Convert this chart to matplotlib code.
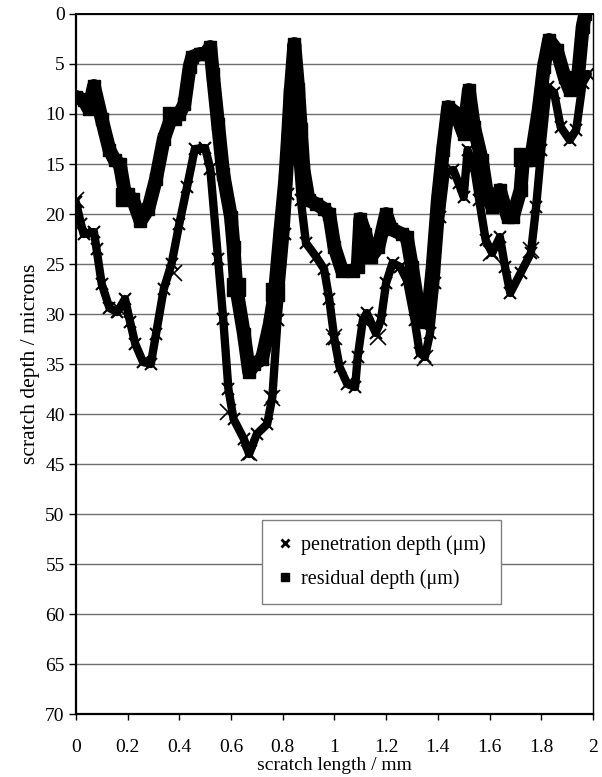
import numpy as np
import matplotlib
matplotlib.use("Agg")
import matplotlib.pyplot as plt
from matplotlib.lines import Line2D

plt.rcParams['font.family'] = ['Liberation Serif', 'DejaVu Serif']

# residual depth (squares)
res_x = [0, 0.03, 0.05, 0.07, 0.10, 0.13, 0.15, 0.17, 0.19, 0.22,
         0.25, 0.28, 0.31, 0.34, 0.37, 0.40, 0.42, 0.44, 0.45, 0.48,
         0.50, 0.52, 0.53, 0.55, 0.57, 0.60, 0.61, 0.62, 0.65, 0.67,
         0.69, 0.72, 0.75, 0.77, 0.79, 0.81, 0.82, 0.83, 0.845, 0.86,
         0.87, 0.88, 0.90, 0.93, 0.96, 0.98, 1.00, 1.03, 1.07, 1.09,
         1.10, 1.12, 1.14, 1.17, 1.20, 1.22, 1.26, 1.28, 1.30, 1.32,
         1.34, 1.36, 1.38, 1.40, 1.42, 1.44, 1.47, 1.50, 1.52, 1.54,
         1.57, 1.59, 1.61, 1.64, 1.67, 1.69, 1.72, 1.73, 1.76, 1.79,
         1.81, 1.83, 1.86, 1.89, 1.91, 1.94, 1.96, 1.97]
res_y = [8.3, 8.6, 9.5, 7.2, 10.5, 13.6, 14.6, 15.0, 18.0, 18.5,
         20.7, 19.5, 16.5, 12.5, 10.3, 10.0, 9.0, 5.3, 4.3, 4.0,
         4.0, 3.3, 6.0, 11.0, 16.0, 20.3, 23.3, 27.3, 32.0, 35.8,
         35.0, 34.5, 31.0, 27.8, 22.0, 16.5, 12.5, 8.0, 3.0, 7.5,
         11.5, 15.5, 18.6, 19.0, 19.5, 20.0, 23.3, 25.7, 25.7, 25.3,
         20.5, 22.0, 24.3, 23.3, 20.0, 21.5, 22.0, 22.3, 25.3, 28.6,
         30.8, 30.6, 25.3, 18.6, 13.6, 9.3, 9.9, 12.0, 7.6, 11.3,
         14.6, 18.0, 19.3, 17.6, 20.3, 20.3, 17.6, 14.3, 14.6, 9.6,
         5.3, 2.6, 3.6, 6.3, 7.6, 6.9, 1.3, 0.0]

# penetration depth (crosses)
pen_x = [0, 0.02, 0.03, 0.07, 0.08, 0.10, 0.13, 0.16, 0.19, 0.21,
         0.23, 0.26, 0.29, 0.31, 0.34, 0.37, 0.40, 0.43, 0.46, 0.50,
         0.52, 0.55, 0.57, 0.59, 0.61, 0.65, 0.67, 0.70, 0.74, 0.76,
         0.78, 0.81, 0.82, 0.835, 0.855, 0.87, 0.89, 0.93, 0.96, 0.98,
         1.00, 1.02, 1.05, 1.08, 1.09, 1.11, 1.125, 1.16, 1.18, 1.20,
         1.225, 1.255, 1.28, 1.31, 1.33, 1.35, 1.37, 1.39, 1.41, 1.43,
         1.46, 1.48, 1.50, 1.515, 1.54, 1.56, 1.585, 1.61, 1.64, 1.66,
         1.68, 1.72, 1.76, 1.78, 1.80, 1.825, 1.85, 1.875, 1.91, 1.935,
         1.96, 1.98]
pen_y = [18.8, 21.0, 22.0, 21.8, 23.5, 27.0, 29.4, 29.8, 28.5, 30.8,
         33.0, 34.8, 35.0, 32.0, 27.5, 25.0, 21.0, 17.3, 13.5, 13.4,
         15.5, 24.5, 30.5, 37.5, 40.5, 42.5, 44.0, 42.0, 41.0, 38.3,
         30.6, 22.0, 18.0, 11.6, 13.6, 18.6, 22.9, 24.3, 25.5, 28.5,
         32.5, 35.3, 37.0, 37.3, 34.3, 30.6, 29.9, 31.9, 30.6, 26.9,
         24.9, 25.3, 26.6, 30.6, 33.9, 34.3, 31.9, 26.9, 20.3, 15.9,
         15.6, 16.9, 18.3, 13.6, 15.3, 18.6, 22.6, 23.9, 22.3, 25.3,
         27.9, 25.9, 23.9, 19.3, 13.6, 7.3, 7.9, 11.3, 12.6, 11.6,
         6.9, 6.0]

# a few markers that show up larger in the original
res_big_x = [0.19, 0.37, 0.62, 0.77, 1.73]
res_big_y = [18.3, 10.2, 27.3, 27.8, 14.3]
pen_big_x = [0.0, 0.17, 0.38, 0.59, 0.67, 0.76, 1.00, 1.17, 1.35, 1.605, 1.76]
pen_big_y = [18.6, 29.6, 25.9, 39.8, 43.9, 38.4, 32.3, 32.3, 34.4, 23.9, 23.6]

fig = plt.figure(figsize=(6.02, 7.77), dpi=100)
ax = fig.add_axes([0.126, 0.081, 0.859, 0.901])

# penetration: dark band with crosses along it
ax.plot(pen_x, pen_y, color='black', lw=6, solid_joinstyle='round',
        solid_capstyle='round', marker='x', ms=9, mew=1.5, zorder=3)
ax.plot(pen_big_x, pen_big_y, ls='none', color='black', marker='x', ms=12, mew=1.2, zorder=3)
# residual: thick band of squares
ax.plot(res_x, res_y, color='black', lw=10, solid_joinstyle='round',
        marker='s', ms=9, zorder=4)
ax.plot(res_big_x, res_big_y, ls='none', color='black', marker='s', ms=13, zorder=4)

ax.set_xlim(0, 2)
ax.set_ylim(70, 0)
ax.set_xticks(np.arange(0, 2.01, 0.2))
ax.set_xticklabels(['0', '0.2', '0.4', '0.6', '0.8', '1', '1.2', '1.4', '1.6', '1.8', '2'])
ax.set_yticks(np.arange(0, 71, 5))
ax.yaxis.grid(True, color='#6e6e6e', lw=1.0)
ax.set_axisbelow(True)

for s in ax.spines.values():
    s.set_color('black')
ax.spines['left'].set_linewidth(1.6)
ax.spines['bottom'].set_linewidth(1.6)
ax.spines['top'].set_linewidth(1.4)
ax.spines['right'].set_linewidth(1.0)

ax.tick_params(axis='y', direction='out', length=5, width=1, pad=3, labelsize=14)
ax.tick_params(axis='x', direction='out', length=4, width=1, pad=14, labelsize=14)

ax.set_xlabel('scratch length / mm', fontsize=14, labelpad=1)
ax.set_ylabel('scratch depth / microns', fontsize=15.5, labelpad=4)

handles = [Line2D([], [], ls='none', marker='x', color='black', ms=6, mew=2),
           Line2D([], [], ls='none', marker='s', color='black', ms=6)]
leg = ax.legend(handles, ['penetration depth (μm)', 'residual depth (μm)'],
                loc='upper left', bbox_to_anchor=(0.36, 0.277), fontsize=14.5,
                frameon=True, fancybox=False, framealpha=1, edgecolor='#808080',
                handlelength=0.8, handletextpad=0.4, labelspacing=0.7,
                borderpad=0.75, borderaxespad=0)
leg.get_frame().set_linewidth(1.0)

fig.savefig('out.png', dpi=100)
